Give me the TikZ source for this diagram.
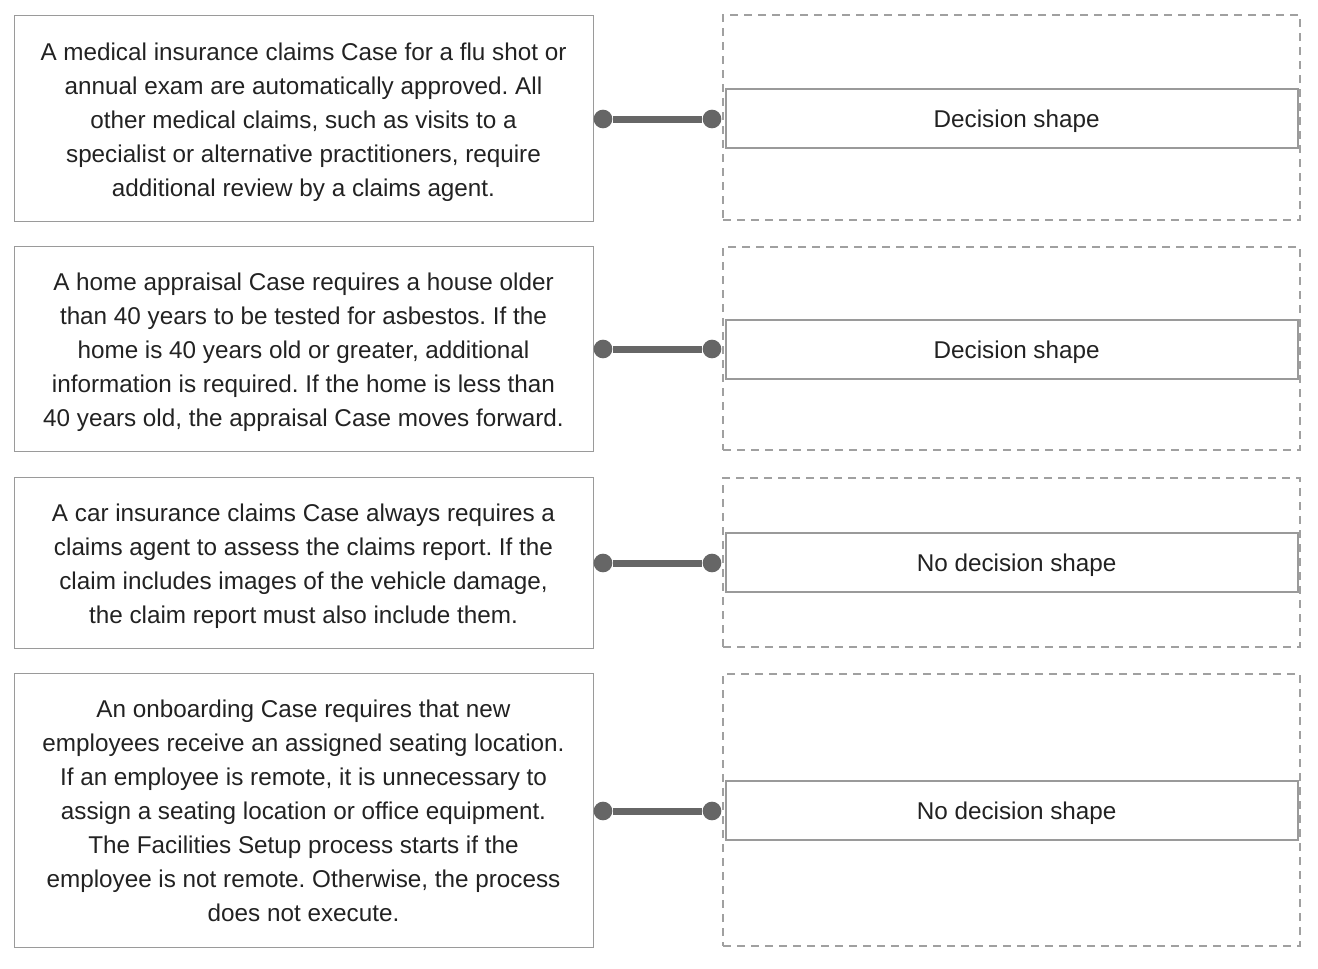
\documentclass[tikz,border=0pt]{standalone}
\usepackage{fontspec}
\setmainfont{Liberation Sans}
\usepackage{xcolor}
\frenchspacing
\newcommand{\casegap}[1][19pt]{\rule{0pt}{#1}}

\begin{document}
\begin{tikzpicture}[x=0.75pt,y=-0.75pt,
  casebox/.style={draw=boxgray,line width=0.75pt,minimum width=434.25pt,inner sep=0pt,
    align=center,text=txtgray,font=\fontsize{18.2}{25.5}\selectfont},
  slotbox/.style={draw=dashgray,line width=1.5pt,dash pattern=on 6pt off 4.5pt,
    minimum width=432.75pt,inner sep=0pt},
  answerbox/.style={draw=boxgray,line width=1.1pt,fill=white,minimum width=429pt,
    minimum height=44.25pt,inner sep=0pt,text=txtgray,font=\fontsize{18.2}{20}\selectfont,
    text height=17.5pt,text depth=3.9pt},
  dot/.style={circle,fill=linkgray,minimum size=14pt,inner sep=0pt}]
\definecolor{boxgray}{HTML}{9A9A9A}
\definecolor{dashgray}{HTML}{A0A0A0}
\definecolor{linkgray}{HTML}{666666}
\definecolor{txtgray}{HTML}{222222}
\useasboundingbox (0,0) rectangle (1318,968);

% scenario descriptions
\node [casebox,minimum height=154.5pt] (case1) at (303.5,118)
  {\casegap A medical insurance claims Case for a flu shot or\\
   annual exam are automatically approved. All\\
   other medical claims, such as visits to a\\
   specialist or alternative practitioners, require\\
   additional review by a claims agent.};
\node [casebox,minimum height=153.75pt] (case2) at (303.5,348.5)
  {\casegap A home appraisal Case requires a house older\\
   than 40 years to be tested for asbestos. If the\\
   home is 40 years old or greater, additional\\
   information is required. If the home is less than\\
   40 years old, the appraisal Case moves forward.};
\node [casebox,minimum height=128.25pt] (case3) at (303.5,562.5)
  {\casegap A car insurance claims Case always requires a\\
   claims agent to assess the claims report. If the\\
   claim includes images of the vehicle damage,\\
   the claim report must also include them.};
\node [casebox,minimum height=205.5pt] (case4) at (303.5,810)
  {\casegap[14.5pt]An onboarding Case requires that new\\
   employees receive an assigned seating location.\\
   If an employee is remote, it is unnecessary to\\
   assign a seating location or office equipment.\\
   The Facilities Setup process starts if the\\
   employee is not remote. Otherwise, the process\\
   does not execute.};

% drop targets with answers
\foreach \i/\yc/\h/\ya/\ans in {1/117.5/153.75/118.5/Decision shape,
                                2/348.5/152.25/349.5/Decision shape,
                                3/562.5/126.75/562.5/No decision shape,
                                4/810/204/810.5/No decision shape}
{
  \node [slotbox,minimum height=\h pt] (slot\i) at (1011.5,\yc) {};
  \node [answerbox] (answer\i) at (1012,\ya) {\hspace*{7pt}\ans};
}

% connectors
\foreach \i/\yl in {1/119,2/349,3/563,4/811}
{
  \node [dot] (from\i) at (603,\yl) {};
  \node [dot] (to\i) at (712,\yl) {};
  \draw [linkgray,line width=5.25pt] (from\i) -- (to\i);
}
\end{tikzpicture}
\end{document}
